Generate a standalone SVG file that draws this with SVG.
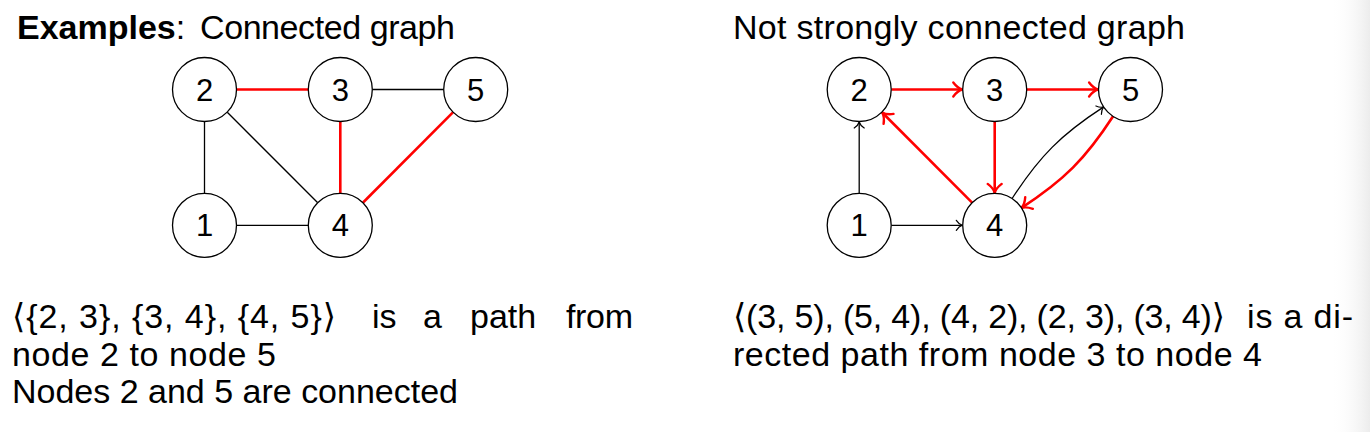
<svg xmlns="http://www.w3.org/2000/svg" width="1370" height="432" viewBox="0 0 1370 432">
<style>
  text { font-family: "Liberation Sans", "DejaVu Sans", sans-serif; fill: #000; }
  .title { font-size: 34px; }
  .body { font-size: 34px; }
  .lbl { font-size: 31px; text-anchor: middle; }
  .node circle { fill: #fff; stroke: #000; stroke-width: 1.3; }
  .e { fill: none; stroke: #000; stroke-width: 1.3; }
  .r { fill: none; stroke: #ff0000; stroke-width: 2.6; }
  .ea { marker-end: url(#ab); }
  .ra { marker-end: url(#ar); }
</style>
<defs>
  <linearGradient id="edge" x1="0" y1="0" x2="1" y2="0">
    <stop offset="0" stop-color="#ffffff" stop-opacity="0"/>
    <stop offset="1" stop-color="#ececec" stop-opacity="1"/>
  </linearGradient>
  <marker id="ar" markerUnits="userSpaceOnUse" viewBox="-14 -10 16 20" refX="0" refY="0" markerWidth="16" markerHeight="20" orient="auto" overflow="visible">
    <path d="M-9,-7 C-6,-3 -3,-0.8 0,0 C-3,0.8 -6,3 -9,7" fill="none" stroke="#ff0000" stroke-width="2.4" stroke-linecap="round" stroke-linejoin="round"/>
  </marker>
  <marker id="ab" markerUnits="userSpaceOnUse" viewBox="-10 -8 12 16" refX="0" refY="0" markerWidth="12" markerHeight="16" orient="auto" overflow="visible">
    <path d="M-6,-5 C-4,-2 -2,-0.6 0,0 C-2,0.6 -4,2 -6,5" fill="none" stroke="#000" stroke-width="1.2" stroke-linecap="round" stroke-linejoin="round"/>
  </marker>
</defs>
<rect x="0" y="0" width="1370" height="432" fill="#ffffff"/>
<rect x="1330" y="0" width="40" height="432" fill="url(#edge)"/>

<g id="titles">
  <text class="title" x="17" y="39" font-size="31"><tspan font-weight="bold">Examples</tspan>:</text>
  <text class="title" x="200" y="39" textLength="255">Connected graph</text>
  <text class="title" x="733" y="39" textLength="452">Not strongly connected graph</text>
</g>

<g id="connectors">
  <line class="r" x1="236.7" y1="89.5" x2="308.1" y2="89.5"/>
  <line class="e" x1="372.5" y1="89.5" x2="443.5" y2="89.5"/>
  <line class="e" x1="204.5" y1="121.7" x2="204.5" y2="193.1"/>
  <line class="e" x1="227.3" y1="112.3" x2="317.5" y2="202.5"/>
  <line class="r" x1="340.3" y1="121.7" x2="340.3" y2="193.1"/>
  <line class="r" x1="452.9" y1="112.3" x2="363.1" y2="202.5"/>
  <line class="e" x1="236.7" y1="225.3" x2="308.1" y2="225.3"/>
  <line class="r ra" x1="891.4" y1="89.5" x2="962.3" y2="89.5"/>
  <line class="r ra" x1="1026.9" y1="89.5" x2="1098.1" y2="89.5"/>
  <line class="r ra" x1="994.7" y1="121.7" x2="994.7" y2="192.9"/>
  <line class="r ra" x1="972.1" y1="202.7" x2="882.2" y2="112.5"/>
  <line class="e ea" x1="859.2" y1="193.1" x2="859.2" y2="122"/>
  <line class="e ea" x1="891.4" y1="225.3" x2="962.3" y2="225.3"/>
  <path class="e ea" d="M1012.1,198.5 C1039.7,156.0 1061.2,134.5 1103.7,106.9"/>
  <path class="r ra" d="M1113.1,116.3 C1085.5,158.8 1064.0,180.3 1021.5,207.9"/>
</g>

<g id="L1" class="node"><circle cx="204.5" cy="225.3" r="32"/><text class="lbl" x="204.5" y="236.4">1</text></g>
<g id="L2" class="node"><circle cx="204.5" cy="89.5" r="32"/><text class="lbl" x="204.5" y="100.6">2</text></g>
<g id="L3" class="node"><circle cx="340.3" cy="89.5" r="32"/><text class="lbl" x="340.3" y="100.6">3</text></g>
<g id="L4" class="node"><circle cx="340.3" cy="225.3" r="32"/><text class="lbl" x="340.3" y="236.4">4</text></g>
<g id="L5" class="node"><circle cx="475.7" cy="89.5" r="32"/><text class="lbl" x="475.7" y="100.6">5</text></g>

<g id="R1" class="node"><circle cx="859.2" cy="225.3" r="32"/><text class="lbl" x="859.2" y="236.4">1</text></g>
<g id="R2" class="node"><circle cx="859.2" cy="89.5" r="32"/><text class="lbl" x="859.2" y="100.6">2</text></g>
<g id="R3" class="node"><circle cx="994.7" cy="89.5" r="32"/><text class="lbl" x="994.7" y="100.6">3</text></g>
<g id="R4" class="node"><circle cx="994.7" cy="225.3" r="32"/><text class="lbl" x="994.7" y="236.4">4</text></g>
<g id="R5" class="node"><circle cx="1130.5" cy="89.5" r="32"/><text class="lbl" x="1130.5" y="100.6">5</text></g>

<g id="left-text">
  <text class="body" x="12" y="328" textLength="324">⟨{2, 3}, {3, 4}, {4, 5}⟩</text>
  <text class="body" x="372" y="328">is</text>
  <text class="body" x="423" y="328">a</text>
  <text class="body" x="470" y="328">path</text>
  <text class="body" x="566" y="328" textLength="67">from</text>
  <text class="body" x="12" y="365.5" textLength="264">node 2 to node 5</text>
  <text class="body" x="12" y="403" textLength="446">Nodes 2 and 5 are connected</text>
</g>

<g id="right-text">
  <text class="body" x="733" y="328" textLength="492">⟨(3, 5), (5, 4), (4, 2), (2, 3), (3, 4)⟩</text>
  <text class="body" x="1247" y="328" textLength="106">is a di-</text>
  <text class="body" x="733" y="365.5" textLength="529">rected path from node 3 to node 4</text>
</g>
</svg>
